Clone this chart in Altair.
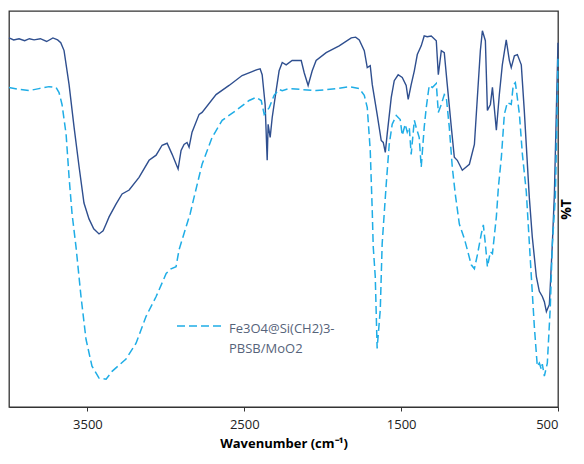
import altair as alt
import pandas as pd

# Sample 1 (solid, unlabeled)
wn_solid = [4000, 3970, 3936, 3900, 3870, 3840, 3800, 3760, 3720, 3690, 3670, 3649, 3617, 3585, 3553,
            3522, 3490, 3460, 3426, 3400, 3381, 3362, 3317, 3279, 3234, 3171, 3107, 3062, 3024, 2992,
            2960, 2922, 2903, 2884, 2865, 2852, 2833, 2788, 2769, 2680, 2597, 2514, 2450, 2418, 2399,
            2386, 2367, 2354, 2348, 2335, 2322, 2297, 2278, 2258, 2233, 2195, 2137, 2118, 2093, 2067,
            2042, 1978, 1895, 1818, 1790, 1767, 1735, 1716, 1697, 1684, 1653, 1627, 1614, 1601, 1589,
            1563, 1544, 1519, 1493, 1468, 1455, 1436, 1416, 1397, 1372, 1353, 1334, 1308, 1276, 1263,
            1244, 1225, 1206, 1180, 1161, 1142, 1110, 1065, 1033, 1014, 995, 982, 963, 950, 931,
            918, 893, 874, 855, 830, 810, 798, 778, 759, 734, 715, 683, 664, 638, 619,
            600, 587, 574, 555, 536, 523, 510, 500]
t_solid = [93.2, 92.7, 93.0, 92.5, 93.0, 92.7, 93.0, 92.3, 93.2, 92.7, 92.0, 90.0, 81.4, 70.6, 60.6,
           51.5, 47.5, 45.0, 43.7, 44.5, 46.2, 48.0, 51.3, 53.8, 54.8, 58.0, 62.3, 63.6, 66.1, 66.6,
           63.8, 60.1, 64.8, 66.3, 66.8, 65.6, 69.4, 73.9, 74.4, 78.9, 81.2, 83.7, 84.7, 85.2, 85.4,
           83.9, 76.4, 62.3, 71.4, 68.1, 73.1, 79.9, 84.9, 87.0, 86.4, 87.5, 87.5, 84.4, 81.2, 84.9,
           87.5, 89.5, 91.2, 93.2, 93.4, 92.7, 90.0, 85.7, 86.2, 81.4, 73.9, 67.3, 66.8, 64.3, 68.9,
           78.2, 82.4, 83.9, 83.2, 81.2, 77.7, 81.4, 84.9, 89.0, 91.2, 93.7, 93.5, 93.7, 92.5, 83.9,
           90.0, 89.5, 81.4, 70.6, 63.1, 62.3, 59.8, 61.3, 66.3, 78.2, 90.0, 95.0, 92.5, 74.9, 76.4,
           80.7, 69.9, 78.9, 86.4, 92.7, 87.5, 85.7, 88.7, 89.0, 86.4, 74.9, 53.0, 43.0, 32.9, 29.2,
           27.9, 26.6, 24.1, 25.9, 41.2, 53.8, 75.6, 92.0]

# Fe3O4@Si(CH2)3-PBSB/MoO2 (dashed)
wn_dashed = [4000, 3936, 3872, 3809, 3745, 3700, 3681, 3662, 3636, 3617, 3598, 3573, 3541, 3509, 3471,
             3426, 3381, 3343, 3254, 3190, 3126, 3062, 2998, 2967, 2935, 2916, 2871, 2845, 2820, 2769,
             2705, 2641, 2552, 2469, 2424, 2392, 2373, 2341, 2310, 2278, 2258, 2214, 2042, 1914, 1831,
             1767, 1735, 1716, 1697, 1684, 1678, 1665, 1653, 1633, 1621, 1608, 1595, 1576, 1557, 1531,
             1506, 1493, 1474, 1461, 1448, 1436, 1416, 1404, 1385, 1372, 1353, 1340, 1321, 1301, 1276,
             1263, 1244, 1225, 1212, 1193, 1174, 1155, 1129, 1097, 1078, 1053, 1033, 1014, 989, 976,
             963, 950, 931, 918, 893, 880, 861, 842, 823, 798, 785, 772, 765, 746, 727,
             702, 670, 651, 632, 619, 606, 600, 587, 568, 549, 536, 517, 504, 500]
t_dashed = [80.7, 80.2, 79.9, 80.4, 80.9, 80.7, 79.4, 76.4, 68.9, 58.0, 48.8, 40.5, 27.9, 17.1, 10.3,
            7.3, 7.0, 9.0, 12.1, 16.1, 22.9, 27.9, 33.7, 34.9, 35.4, 39.7, 45.5, 48.8, 53.0, 61.3,
            68.1, 72.4, 74.9, 77.4, 78.2, 77.4, 73.9, 75.6, 78.7, 80.2, 79.9, 80.4, 79.9, 80.4, 80.9,
            80.4, 78.7, 75.6, 64.8, 49.3, 40.5, 32.9, 14.8, 24.6, 41.2, 48.8, 56.3, 66.3, 71.4, 73.6,
            72.6, 68.6, 71.4, 69.4, 70.6, 63.8, 72.4, 70.6, 68.1, 60.6, 70.6, 75.6, 81.2, 80.7, 81.7,
            74.4, 76.4, 78.9, 78.2, 70.6, 60.6, 53.8, 46.2, 42.5, 39.7, 35.9, 34.9, 38.4, 43.7, 46.0,
            41.2, 35.4, 39.2, 38.7, 48.0, 55.5, 63.1, 73.9, 76.9, 76.4, 81.4, 81.9, 79.9, 73.9, 63.8,
            54.3, 32.9, 20.4, 10.3, 11.1, 9.5, 10.8, 7.8, 11.1, 25.4, 41.2, 53.0, 78.2, 88.0]

legend_label = "Fe3O4@Si(CH2)3-\nPBSB/MoO2"
x_ticks = [3500, 2500, 1500, 500]

solid_df = pd.DataFrame({"wn": wn_solid, "T": t_solid})
dashed_df = pd.DataFrame({"wn": wn_dashed, "T": t_dashed})
legend_df = pd.DataFrame({"label": [legend_label]})

SOLID = "#2F4F8F"
DASH = "#1FADE6"

x_enc = alt.X("wn:Q",
              scale=alt.Scale(domain=[500, 4000], reverse=True, nice=False, zero=False),
              axis=alt.Axis(values=x_ticks, format="d", title="Wavenumber (cm\u207b\u00b9)", grid=False,
                            tickSize=4, tickColor="#333333", domainColor="#333333",
                            labelFont="Open Sans", labelFontSize=13, labelColor="#222222",
                            labelPadding=7, titleFont="Open Sans", titleFontSize=13,
                            titleFontWeight="bold", titleColor="#000000", titlePadding=6))
y_enc = alt.Y("T:Q",
              scale=alt.Scale(domain=[0, 100], nice=False),
              axis=alt.Axis(orient="right", title="%T", labels=False, ticks=False, domain=False,
                            grid=False, titleAngle=270, titleBaseline="top", titleFont="Open Sans",
                            titleFontSize=14, titleFontWeight="bold", titleColor="#000000",
                            titlePadding=1))

solid = alt.Chart(solid_df).mark_line(color=SOLID, strokeWidth=1.4).encode(x=x_enc, y=y_enc)
dashed = alt.Chart(dashed_df).mark_line(color=DASH, strokeWidth=1.5, strokeDash=[8, 4]).encode(
    x=alt.X("wn:Q"), y=alt.Y("T:Q"))

legend_line = alt.Chart(legend_df).mark_rule(color=DASH, strokeWidth=1.5, strokeDash=[8, 4]).encode(
    x=alt.value(168), x2=alt.value(213), y=alt.value(315))
legend_text = alt.Chart(legend_df).mark_text(
    align="left", baseline="alphabetic", lineBreak="\n", lineHeight=20,
    font="Open Sans", fontSize=13, color="#56637A").encode(
    text="label:N", x=alt.value(220), y=alt.value(322))

chart = alt.layer(solid, dashed, legend_line, legend_text).properties(
    width=549, height=396,
    autosize=alt.AutoSizeParams(type="none"),
    padding={"left": 1, "top": 3, "right": 18, "bottom": 45},
).configure_view(stroke="#333333", strokeWidth=1.3)

chart.save("out.html", embed_options={"renderer": "svg", "actions": False})
